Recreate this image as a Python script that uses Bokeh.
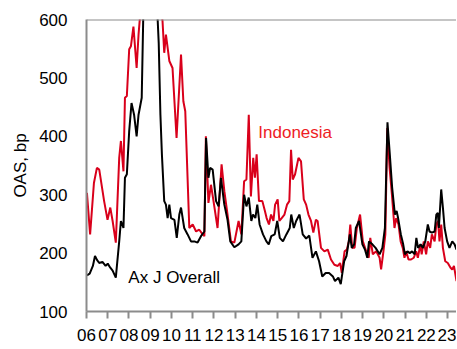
from bokeh.plotting import figure
from bokeh.models import FixedTicker, Range1d, Span
from bokeh.core.properties import value
from bokeh.embed import file_html
from bokeh.resources import INLINE

# ---- data ----
axj_x = [2006.02, 2006.15, 2006.30, 2006.40, 2006.50, 2006.60, 2006.75, 2006.90, 2007.00, 2007.12,
         2007.23, 2007.38, 2007.54, 2007.62, 2007.74, 2007.81, 2007.90, 2008.01, 2008.12, 2008.24,
         2008.36, 2008.45, 2008.60, 2008.68, 2008.85, 2009.05, 2009.25, 2009.40, 2009.48, 2009.55,
         2009.66, 2009.74, 2009.82, 2009.90, 2009.98, 2010.14, 2010.25, 2010.37, 2010.45, 2010.60,
         2010.76, 2010.92, 2011.08, 2011.23, 2011.39, 2011.55, 2011.63, 2011.74, 2011.82, 2011.94,
         2012.10, 2012.22, 2012.33, 2012.49, 2012.64, 2012.77, 2012.96, 2013.16, 2013.29, 2013.42,
         2013.53, 2013.64, 2013.76, 2013.84, 2013.95, 2014.04, 2014.15, 2014.31, 2014.47, 2014.58,
         2014.70, 2014.86, 2014.98, 2015.10, 2015.25, 2015.41, 2015.57, 2015.64, 2015.76, 2015.87,
         2016.03, 2016.18, 2016.34, 2016.49, 2016.64, 2016.80, 2016.95, 2017.10, 2017.26, 2017.42,
         2017.60, 2017.70, 2017.86, 2017.97, 2018.13, 2018.24, 2018.40, 2018.49, 2018.60, 2018.68,
         2018.83, 2018.99, 2019.11, 2019.22, 2019.30, 2019.46, 2019.61, 2019.80, 2019.93, 2020.05,
         2020.17, 2020.28, 2020.39, 2020.52, 2020.60, 2020.67, 2020.80, 2020.91, 2020.99, 2021.11,
         2021.22, 2021.33, 2021.45, 2021.53, 2021.61, 2021.73, 2021.84, 2021.95, 2022.07, 2022.15,
         2022.26, 2022.39, 2022.47, 2022.54, 2022.59, 2022.70, 2022.78, 2022.86, 2022.98, 2023.09,
         2023.22, 2023.33, 2023.42]
axj = [162, 165, 178, 195, 188, 183, 185, 178, 182, 175,
       170, 158, 220, 255, 243, 329, 335, 409, 457, 437,
       400, 437, 466, 620, 780, 760, 680, 560, 437, 369,
       289, 283, 260, 283, 260, 257, 226, 266, 278, 243,
       232, 220, 220, 218, 229, 237, 397, 329, 346, 343,
       289, 280, 329, 283, 257, 220, 210, 215, 220, 300,
       280, 295, 255, 266, 260, 283, 249, 232, 220, 215,
       229, 232, 255, 226, 220, 232, 243, 266, 243, 255,
       266, 232, 225, 230, 192, 203, 186, 160, 166, 166,
       160, 152, 158, 147, 186, 195, 232, 209, 215, 243,
       255, 215, 206, 192, 220, 215, 209, 198, 209, 243,
       424, 369, 312, 266, 272, 260, 232, 215, 198, 203,
       200, 203, 198, 226, 209, 215, 209, 220, 249, 237,
       235, 237, 266, 269, 243, 309, 278, 243, 220, 209,
       220, 215, 206]

idn_x = [2006.02, 2006.17, 2006.35, 2006.49, 2006.60, 2006.83, 2006.99, 2007.12, 2007.23, 2007.38,
         2007.54, 2007.62, 2007.74, 2007.81, 2007.90, 2008.01, 2008.09, 2008.21, 2008.36, 2008.45,
         2008.53, 2008.70, 2008.95, 2009.20, 2009.45, 2009.58, 2009.66, 2009.74, 2009.90, 2010.05,
         2010.24, 2010.45, 2010.56, 2010.65, 2010.84, 2011.00, 2011.16, 2011.31, 2011.47, 2011.55,
         2011.62, 2011.74, 2011.86, 2011.98, 2012.17, 2012.36, 2012.49, 2012.64, 2012.80, 2012.96,
         2013.16, 2013.29, 2013.42, 2013.53, 2013.64, 2013.74, 2013.85, 2013.93, 2014.01, 2014.12,
         2014.28, 2014.40, 2014.48, 2014.59, 2014.69, 2014.80, 2014.88, 2015.00, 2015.08, 2015.19,
         2015.32, 2015.44, 2015.55, 2015.63, 2015.71, 2015.82, 2015.98, 2016.10, 2016.23, 2016.34,
         2016.45, 2016.57, 2016.68, 2016.80, 2016.88, 2017.04, 2017.20, 2017.36, 2017.51, 2017.67,
         2017.83, 2017.94, 2018.02, 2018.15, 2018.26, 2018.35, 2018.42, 2018.51, 2018.62, 2018.73,
         2018.88, 2019.01, 2019.17, 2019.29, 2019.36, 2019.48, 2019.64, 2019.80, 2019.87, 2019.98,
         2020.07, 2020.16, 2020.27, 2020.38, 2020.50, 2020.58, 2020.69, 2020.79, 2020.89, 2020.97,
         2021.05, 2021.16, 2021.28, 2021.41, 2021.52, 2021.60, 2021.72, 2021.78, 2021.88, 2021.99,
         2022.07, 2022.18, 2022.26, 2022.39, 2022.47, 2022.55, 2022.62, 2022.70, 2022.78, 2022.89,
         2023.01, 2023.14, 2023.22, 2023.30, 2023.42]
idn = [303, 232, 320, 346, 343, 289, 257, 278, 255, 218,
       363, 392, 340, 466, 469, 549, 554, 588, 517, 574,
       610, 700, 820, 760, 640, 597, 543, 574, 529, 517,
       397, 540, 460, 443, 243, 249, 237, 240, 232, 229,
       400, 286, 317, 289, 243, 352, 306, 266, 220, 218,
       255, 232, 323, 326, 437, 297, 363, 329, 369, 289,
       289, 272, 260, 249, 266, 255, 283, 292, 255, 260,
       266, 283, 289, 377, 326, 335, 363, 357, 292, 283,
       266, 255, 235, 257, 255, 209, 203, 206, 189, 180,
       178, 183, 166, 203, 206, 220, 249, 209, 209, 243,
       266, 220, 203, 192, 226, 198, 203, 192, 172, 203,
       232, 414, 346, 300, 243, 260, 249, 220, 209, 192,
       203, 189, 189, 192, 203, 192, 215, 198, 220, 198,
       220, 209, 232, 220, 249, 255, 220, 249, 209, 186,
       183, 175, 172, 178, 152]

year_ticks = list(range(2006, 2024))
year_labels = ["%02d" % (y % 100) for y in year_ticks]
y_ticks = [100, 200, 300, 400, 500, 600]

label_idn = ("Indonesia", 2014.09, 406)
label_axj = ("Ax J Overall", 2007.97, 158)

FONT = "Liberation Sans"
RED = "#d9001b"
GREY = "#8c8c8c"

p = figure(width=456, height=348, output_backend="svg", toolbar_location=None,
           x_range=Range1d(2006, 2023.42), y_range=Range1d(100, 600),
           min_border_left=86, min_border_top=19, min_border_bottom=37, min_border_right=0)
p.outline_line_color = None
p.background_fill_color = "white"
p.border_fill_color = "white"
p.xgrid.visible = False
p.ygrid.visible = False

p.line(idn_x, idn, line_color=RED, line_width=2)
p.line(axj_x, axj, line_color="black", line_width=2)

p.text(x=[label_idn[1]], y=[label_idn[2]], text=[label_idn[0]], text_color="#ee1c25",
       text_font=value(FONT), text_font_size=value("17px"), text_baseline="alphabetic")
p.text(x=[label_axj[1]], y=[label_axj[2]], text=[label_axj[0]], text_color="black",
       text_font=value(FONT), text_font_size=value("17px"), text_baseline="alphabetic")

p.add_layout(Span(location=600, dimension="width", line_color=GREY, line_width=2))

xa = p.xaxis[0]
xa.ticker = FixedTicker(ticks=year_ticks)
xa.major_label_overrides = {y: l for y, l in zip(year_ticks, year_labels)}
xa.axis_line_color = GREY
xa.axis_line_width = 2
xa.major_tick_line_color = GREY
xa.major_tick_line_width = 2
xa.major_tick_out = 7
xa.major_tick_in = 0
xa.minor_tick_line_color = None
xa.major_label_standoff = 10
xa.major_label_text_font = FONT
xa.major_label_text_font_size = "17px"
xa.major_label_text_color = "black"

ya = p.yaxis[0]
ya.ticker = FixedTicker(ticks=y_ticks)
ya.axis_line_color = GREY
ya.axis_line_width = 2
ya.major_tick_line_color = None
ya.major_tick_out = 0
ya.major_tick_in = 0
ya.minor_tick_line_color = None
ya.major_label_standoff = 19
ya.major_label_text_font = FONT
ya.major_label_text_font_size = "17px"
ya.major_label_text_color = "black"
ya.axis_label = "OAS, bp"
ya.axis_label_text_font = FONT
ya.axis_label_text_font_size = "17px"
ya.axis_label_text_font_style = "normal"
ya.axis_label_text_color = "black"
ya.axis_label_standoff = 6

open("out.html", "w").write(file_html(p, INLINE))
